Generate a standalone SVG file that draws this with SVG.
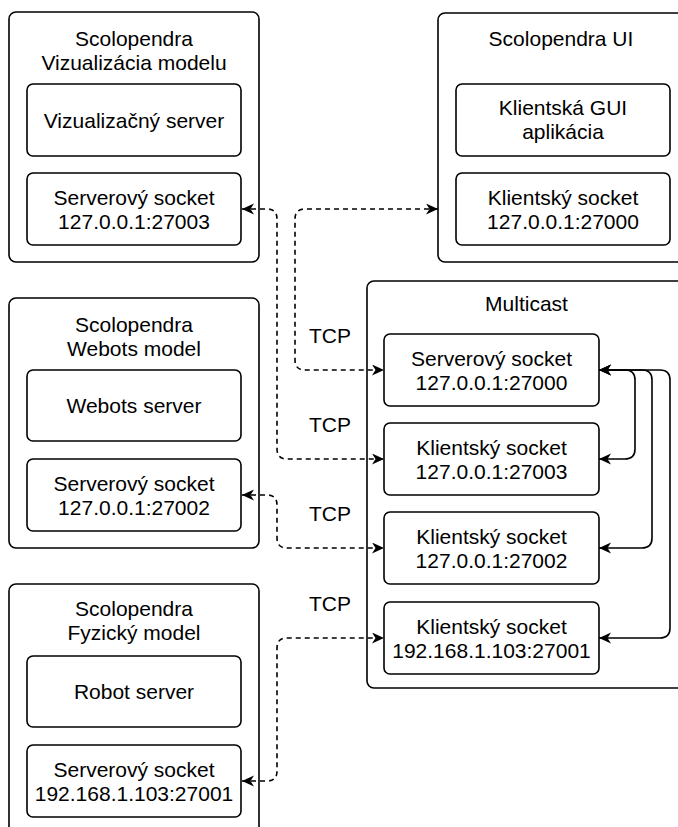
<svg xmlns="http://www.w3.org/2000/svg" width="678" height="827" viewBox="0 0 678 827">
<style>
.c{fill:#fff;stroke:#000;stroke-width:1.6}
.b{fill:#fff;stroke:#000;stroke-width:1.6}
text{font-family:"Liberation Sans",Arial,Helvetica,sans-serif;font-size:21px;fill:#000;text-anchor:middle}
.e{fill:none;stroke:#000;stroke-width:1.6}
.d{stroke-dasharray:5 4}
</style>
<defs>
<marker id="ar" markerUnits="userSpaceOnUse" markerWidth="14" markerHeight="12" refX="12" refY="5.5" orient="auto-start-reverse" viewBox="0 0 14 12">
<path d="M0,0 L12,5.5 L0,11 L3.5,5.5 Z" fill="#000"/>
</marker>
</defs>
<rect width="678" height="827" fill="#fff"/>
<g id="viz">
<rect class="c" x="9" y="12" width="250" height="250" rx="7"/>
<text x="134" y="46">Scolopendra</text>
<text x="134" y="70">Vizualizácia modelu</text>
</g>
<g id="viz-server"><rect class="b" x="27" y="84" width="214" height="72" rx="6"/><text x="134" y="127.5">Vizualizačný server</text></g>
<g id="viz-socket"><rect class="b" x="27" y="173" width="214" height="72" rx="6"/><text x="134" y="204.5">Serverový socket</text><text x="134" y="228.5">127.0.0.1:27003</text></g>
<g id="ui">
<rect class="c" x="438" y="13" width="250" height="249" rx="7"/>
<text x="561" y="45.5">Scolopendra UI</text>
</g>
<g id="ui-gui"><rect class="b" x="456" y="84" width="214" height="72" rx="6"/><text x="563" y="114.5">Klientská GUI</text><text x="563" y="138.5">aplikácia</text></g>
<g id="ui-socket"><rect class="b" x="456" y="173" width="214" height="72" rx="6"/><text x="563" y="204.5">Klientský socket</text><text x="563" y="228.5">127.0.0.1:27000</text></g>
<g id="webots">
<rect class="c" x="9" y="298" width="250" height="250" rx="7"/>
<text x="134" y="332">Scolopendra</text>
<text x="134" y="356">Webots model</text>
</g>
<g id="webots-server"><rect class="b" x="27" y="370" width="214" height="71" rx="6"/><text x="134" y="413">Webots server</text></g>
<g id="webots-socket"><rect class="b" x="27" y="459" width="214" height="72" rx="6"/><text x="134" y="490.5">Serverový socket</text><text x="134" y="514.5">127.0.0.1:27002</text></g>
<g id="fyz">
<rect class="c" x="9" y="584" width="250" height="260" rx="7"/>
<text x="134" y="616">Scolopendra</text>
<text x="134" y="640">Fyzický model</text>
</g>
<g id="robot-server"><rect class="b" x="27" y="656" width="214" height="71" rx="6"/><text x="134" y="699">Robot server</text></g>
<g id="fyz-socket"><rect class="b" x="27" y="745" width="214" height="72" rx="6"/><text x="134" y="776.5">Serverový socket</text><text x="134" y="800.5">192.168.1.103:27001</text></g>
<g id="multicast">
<rect class="c" x="367" y="281" width="320" height="407" rx="7"/>
<text x="526.5" y="310.5">Multicast</text>
</g>
<g id="mc-server"><rect class="b" x="384" y="334" width="215" height="72" rx="6"/><text x="491.5" y="365.5">Serverový socket</text><text x="491.5" y="389.5">127.0.0.1:27000</text></g>
<g id="mc-client-27003"><rect class="b" x="384" y="423" width="215" height="72" rx="6"/><text x="491.5" y="454.5">Klientský socket</text><text x="491.5" y="478.5">127.0.0.1:27003</text></g>
<g id="mc-client-27002"><rect class="b" x="384" y="512" width="215" height="72" rx="6"/><text x="491.5" y="543.5">Klientský socket</text><text x="491.5" y="567.5">127.0.0.1:27002</text></g>
<g id="mc-client-27001"><rect class="b" x="384" y="602" width="215" height="72" rx="6"/><text x="491.5" y="633.5">Klientský socket</text><text x="491.5" y="657.5">192.168.1.103:27001</text></g>
<g id="connectors">
<path class="e" marker-start="url(#ar)" marker-end="url(#ar)" d="M599 370 H625 Q635 370 635 380 V449 Q635 459 625 459 H599"/>
<path class="e" marker-start="url(#ar)" marker-end="url(#ar)" d="M599 370 H642 Q652 370 652 380 V538 Q652 548 642 548 H599"/>
<path class="e" marker-start="url(#ar)" marker-end="url(#ar)" d="M599 370 H660 Q670 370 670 380 V628 Q670 638 660 638 H599"/>
<path class="e d" marker-start="url(#ar)" marker-end="url(#ar)" d="M438 209 H305 Q295 209 295 219 V360 Q295 370 305 370 H384"/>
<path class="e d" marker-start="url(#ar)" marker-end="url(#ar)" d="M242 209 H267 Q277 209 277 219 V449 Q277 459 287 459 H384"/>
<path class="e d" marker-start="url(#ar)" marker-end="url(#ar)" d="M242 495 H267 Q277 495 277 505 V538 Q277 548 287 548 H384"/>
<path class="e d" marker-start="url(#ar)" marker-end="url(#ar)" d="M242 781 H267 Q277 781 277 771 V648 Q277 638 287 638 H384"/>
<text x="330" y="342.5">TCP</text>
<text x="330" y="431.5">TCP</text>
<text x="330" y="520.5">TCP</text>
<text x="330" y="610.5">TCP</text>
</g>
</svg>
